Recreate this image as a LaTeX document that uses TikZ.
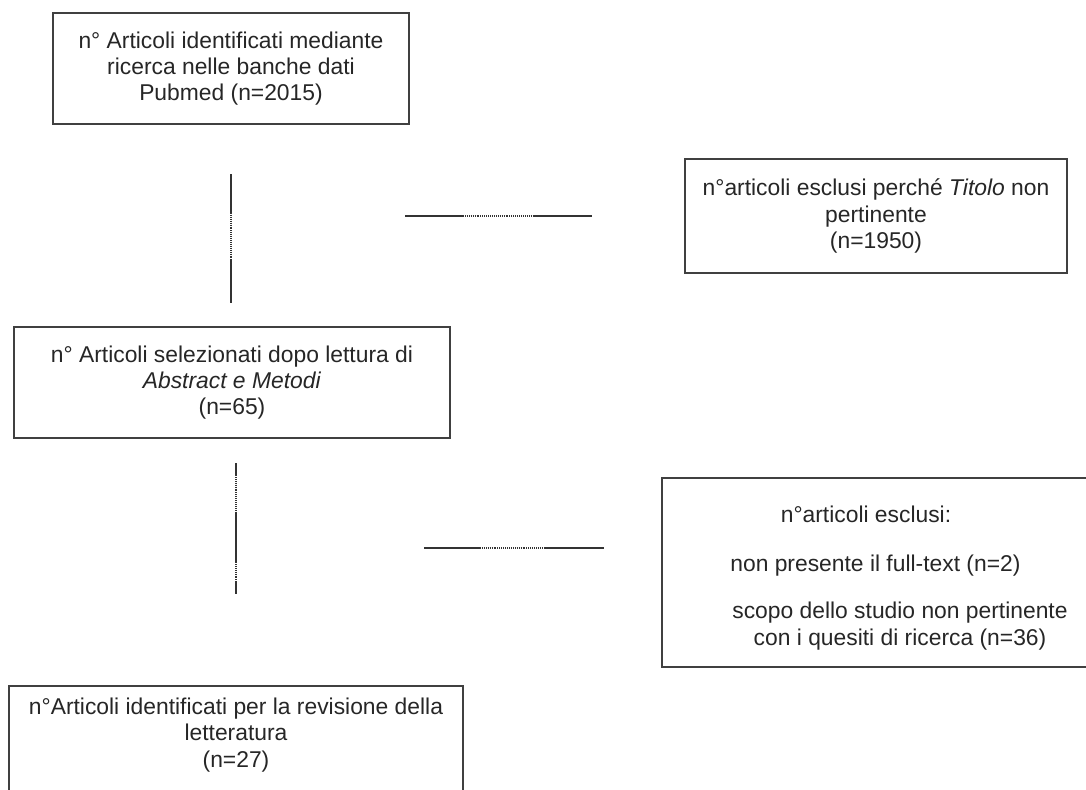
\documentclass[tikz,border=0pt]{standalone}
\usepackage{fontspec}
\setmainfont{Liberation Sans}
\usepackage{tikz}

\tikzset{
  box/.style={draw=black!75, line width=0.8pt, align=center, inner sep=0pt,
              text=black!85, font=\fontsize{13}{15}\selectfont},
  txt/.style={align=center, inner sep=0pt, text=black!85,
              font=\fontsize{13}{15}\selectfont},
  link/.style={black!80, line width=0.8pt},
  linkdots/.style={black!80, line width=1.4pt, dash pattern=on 0.5pt off 0.6pt}
}

\begin{document}
\begin{tikzpicture}[x=0.02cm, y=-0.02cm]
    \useasboundingbox (0,0) rectangle (1086,789);
    \clip (0,0) rectangle (1086,789);

    % boxes
    \node [box, minimum width=7.12cm, minimum height=2.22cm] (found) at (231, 68.5)
      {n° Articoli identificati mediante\\ricerca nelle banche dati\\Pubmed (n=2015)};
    \node [box, minimum width=7.64cm, minimum height=2.28cm] (title) at (876, 216)
      {n°articoli esclusi perché \textit{Titolo} non\\pertinente\\(n=1950)};
    \node [box, minimum width=8.72cm, minimum height=2.22cm] (abstr) at (232, 382.5)
      {n° Articoli selezionati dopo lettura di\\\textit{Abstract e Metodi}\\(n=65)};
    \node [box, minimum width=8.76cm, minimum height=3.78cm] (excl) at (881, 572.5) {};
    \node [box, minimum width=9.08cm, minimum height=2.28cm] (final) at (236, 743) {};

    % texts of the cut boxes
    \node [txt] (exhead) at (866, 514) {n°articoli esclusi:};
    \node [txt, anchor=west] (exfull) at (730, 566) {non presente il full-text (n=2)};
    \node [txt] (exscope) at (900, 626)
      {scopo dello studio non pertinente\\con i quesiti di ricerca (n=36)};
    \node [txt] (fintext) at (236, 735)
      {n°Articoli identificati per la revisione della\\letteratura\\(n=27)};

    % connectors
    \coordinate (v1a) at (231, 174);
    \coordinate (v1b) at (231, 213);
    \coordinate (v1c) at (231, 260);
    \coordinate (v1d) at (231, 303);
    \draw [link] (v1a) -- (v1b);
    \draw [linkdots] (v1b) -- (v1c);
    \draw [link] (v1c) -- (v1d);

    \coordinate (h1a) at (405, 216);
    \coordinate (h1b) at (463, 216);
    \coordinate (h1c) at (533, 216);
    \coordinate (h1d) at (592, 216);
    \draw [link] (h1a) -- (h1b);
    \draw [linkdots] (h1b) -- (h1c);
    \draw [link] (h1c) -- (h1d);

    \coordinate (v2a) at (236, 463);
    \coordinate (v2b) at (236, 475);
    \coordinate (v2c) at (236, 512);
    \coordinate (v2d) at (236, 562);
    \coordinate (v2e) at (236, 582);
    \coordinate (v2f) at (236, 594);
    \draw [link] (v2a) -- (v2b);
    \draw [linkdots] (v2b) -- (v2c);
    \draw [link] (v2c) -- (v2d);
    \draw [linkdots] (v2d) -- (v2e);
    \draw [link] (v2e) -- (v2f);

    \coordinate (h2a) at (424, 548);
    \coordinate (h2b) at (480, 548);
    \coordinate (h2c) at (545, 548);
    \coordinate (h2d) at (604, 548);
    \draw [link] (h2a) -- (h2b);
    \draw [linkdots] (h2b) -- (h2c);
    \draw [link] (h2c) -- (h2d);
\end{tikzpicture}
\end{document}
